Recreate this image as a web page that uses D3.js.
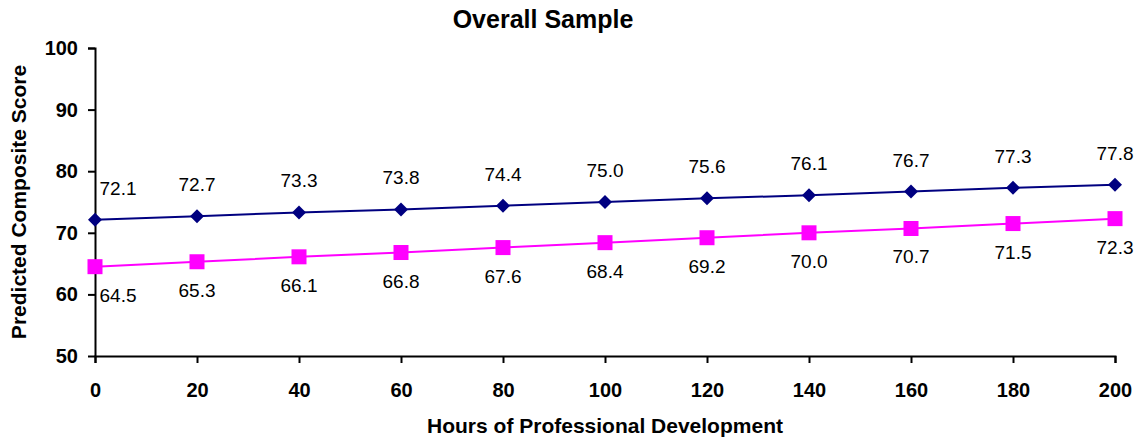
<!DOCTYPE html>
<html><head><meta charset="utf-8">
<script src="https://cdn.jsdelivr.net/npm/d3@7"></script>
<style>body{margin:0;background:#fff;} text{font-family:"Liberation Sans",Arial,sans-serif;}</style>
</head><body><svg id="c" width="1145" height="442"></svg>
<script>
const hours = [0,20,40,60,80,100,120,140,160,180,200];
const seriesA = [72.1,72.7,73.3,73.8,74.4,75.0,75.6,76.1,76.7,77.3,77.8];
const seriesB = [64.5,65.3,66.1,66.8,67.6,68.4,69.2,70.0,70.7,71.5,72.3];
const yTicks = [50,60,70,80,90,100];
const xTicks = [0,20,40,60,80,100,120,140,160,180,200];

const svg = d3.select("#c");
const x = d3.scaleLinear().domain([0,200]).range([95,1115]);
const y = d3.scaleLinear().domain([50,100]).range([356,48]);

const gx = svg.append("g").attr("transform","translate(0,356)")
  .call(d3.axisBottom(x).tickValues(xTicks).tickSize(7).tickPadding(20).tickFormat(d3.format("d")));
const gy = svg.append("g").attr("transform","translate(95,0)")
  .call(d3.axisLeft(y).tickValues(yTicks).tickSize(7).tickPadding(10).tickFormat(d3.format("d")));
[gx,gy].forEach(g=>{
  g.select(".domain").attr("stroke","#000").attr("stroke-width",2);
  g.selectAll(".tick line").attr("stroke","#000").attr("stroke-width",2);
  g.selectAll(".tick text").attr("fill","#000").style("font-size","20px").style("font-weight","bold")
   .style("font-family","'Liberation Sans',Arial,sans-serif");
});
gy.select(".domain").attr("d","M-7,48.5H0.5V356.5");

const line = d3.line().x((d,i)=>x(hours[i])).y(d=>y(d));
svg.append("path").datum(seriesA).attr("d",line).attr("fill","none").attr("stroke","#000080").attr("stroke-width",2);
svg.append("path").datum(seriesB).attr("d",line).attr("fill","none").attr("stroke","#FF00FF").attr("stroke-width",2);

svg.selectAll(".dA").data(seriesA).enter().append("path")
  .attr("transform",(d,i)=>`translate(${x(hours[i])},${y(d)})`)
  .attr("d","M0,-7L7,0L0,7L-7,0Z").attr("fill","#000080");
svg.selectAll(".dB").data(seriesB).enter().append("rect")
  .attr("x",(d,i)=>x(hours[i])-7.5).attr("y",d=>y(d)-7.5).attr("width",15).attr("height",15).attr("fill","#FF00FF");

svg.selectAll(".lA").data(seriesA).enter().append("text")
  .attr("x",(d,i)=>x(hours[i]) + (i===0?23:0)).attr("y",d=>y(d)-25)
  .attr("text-anchor","middle").style("font-size","19px").text(d=>d.toFixed(1));
svg.selectAll(".lB").data(seriesB).enter().append("text")
  .attr("x",(d,i)=>x(hours[i]) + (i===0?23:0)).attr("y",d=>y(d)+35)
  .attr("text-anchor","middle").style("font-size","19px").text(d=>d.toFixed(1));

svg.append("text").attr("x",543).attr("y",28).attr("text-anchor","middle")
  .style("font-size","25px").style("font-weight","bold").text("Overall Sample");
svg.append("text").attr("x",605).attr("y",433).attr("text-anchor","middle")
  .style("font-size","21px").style("font-weight","bold").text("Hours of Professional Development");
svg.append("text").attr("transform","translate(26,202) rotate(-90)").attr("text-anchor","middle")
  .style("font-size","21px").style("font-weight","bold").text("Predicted Composite Score");
</script></body></html>
